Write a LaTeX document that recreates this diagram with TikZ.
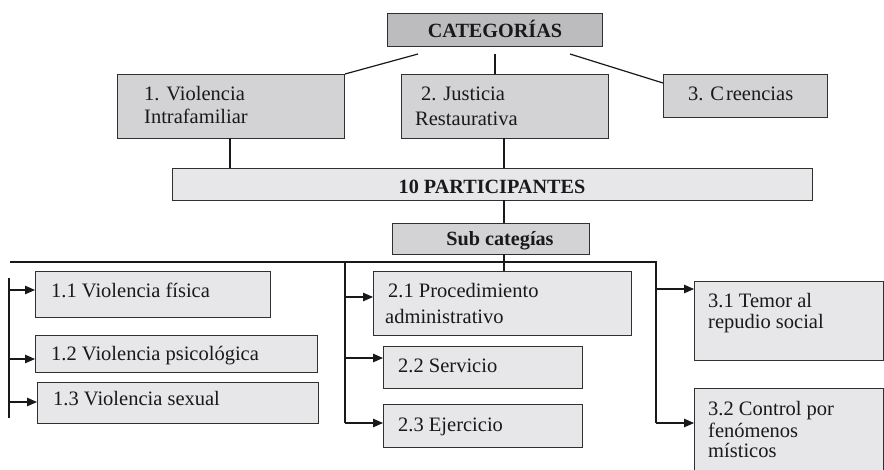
\documentclass[tikz,border=0pt]{standalone}
\usepackage{fontspec}
\setmainfont{Liberation Serif}
\usetikzlibrary{arrows.meta}
\definecolor{catfill}{HTML}{BCBCBE}
\definecolor{midfill}{HTML}{D3D3D5}
\definecolor{lightfill}{HTML}{E7E7E9}
\definecolor{edgecol}{HTML}{303030}
\tikzset{
  boxbase/.style={draw=edgecol, line width=1pt, inner sep=0pt, anchor=north west},
  catbox/.style={boxbase, fill=catfill},
  midbox/.style={boxbase, fill=midfill},
  lightbox/.style={boxbase, fill=lightfill},
  txt/.style={inner sep=0pt, anchor=base west, font=\fontsize{20.5}{23}\selectfont, text=black!90},
  btxt/.style={txt, font=\fontsize{20.2}{23}\selectfont\bfseries},
  thinline/.style={draw=black!90, line width=1.2pt},
  busline/.style={draw=black!90, line width=2pt},
  vline/.style={draw=black!90, line width=1.8pt},
  arr/.style={draw=black!90, line width=1.1pt, -{Triangle[length=10pt,width=8.5pt]}}
}
\begin{document}
\begin{tikzpicture}[x=1pt,y=-1pt]
\useasboundingbox (0,0) rectangle (884,469);
\clip (0,0) rectangle (884,469);
\fill[white] (0,0) rectangle (884,469);

% top level boxes
\node[catbox, minimum width=215pt, minimum height=33pt] (cat) at (387,13) {};
\node[midbox, minimum width=227pt, minimum height=64pt] (b1) at (117,74) {};
\node[midbox, minimum width=207pt, minimum height=64pt] (b2) at (401,74) {};
\node[midbox, minimum width=164pt, minimum height=43pt] (b3) at (663,74) {};
\node[lightbox, minimum width=640pt, minimum height=32pt] (part) at (172,168) {};
\node[midbox, minimum width=197pt, minimum height=31pt] (sub) at (392,223) {};

% sub boxes
\node[lightbox, minimum width=235pt, minimum height=46pt] (b11) at (35,271) {};
\node[lightbox, minimum width=282pt, minimum height=37pt] (b12) at (35,335) {};
\node[lightbox, minimum width=281pt, minimum height=41pt] (b13) at (37,382) {};
\node[lightbox, minimum width=258pt, minimum height=64pt] (b21) at (373,271) {};
\node[lightbox, minimum width=199pt, minimum height=42pt] (b22) at (383,346) {};
\node[lightbox, minimum width=199pt, minimum height=43pt] (b23) at (383,404) {};
\node[lightbox, minimum width=189pt, minimum height=79pt] (b31) at (694,281) {};
\node[lightbox, minimum width=189pt, minimum height=95pt] (b32) at (694,388) {};

% texts
\node[btxt, anchor=base] (tcat) at (495,37) {CATEGORÍAS};
\node[txt] (t1a) at (144,100) {1. Violencia};
\node[txt] (t1b) at (144,123) {Intrafamiliar};
\node[txt] (t2a) at (421,100) {2. Justicia};
\node[txt] (t2b) at (415,125) {Restaurativa};
\node[txt] (t3) at (688,100) {3. C\hspace{2pt}reencias};
\node[btxt, anchor=base] (tpart) at (492,193) {10 PARTICIPANTES};
\node[btxt, anchor=base] (tsub) at (500,245) {Sub categías};
\node[txt] (t11) at (51,297) {1.1 Violencia física};
\node[txt] (t12) at (51,360) {1.2 Violencia psicológica};
\node[txt] (t13) at (53,405) {1.3 Violencia sexual};
\node[txt] (t21a) at (388,297) {2.1 Procedimiento};
\node[txt] (t21b) at (385,323) {administrativo};
\node[txt] (t22) at (398,372) {2.2 Servicio};
\node[txt] (t23) at (398,431) {2.3 Ejercicio};
\node[txt] (t31a) at (708,307) {3.1 Temor al};
\node[txt] (t31b) at (708,328) {repudio social};
\node[txt] (t32a) at (708,415) {3.2 Control por};
\node[txt] (t32b) at (708,437) {fenómenos};
\node[txt] (t32c) at (708,457) {místicos};

% connectors from CATEGORIAS
\coordinate (cl) at (418,54);
\coordinate (cm) at (495,54);
\coordinate (cr) at (570,54);
\coordinate (b3in) at (663,83);
\draw[thinline] (cl) -- (b1.north east);
\draw[vline] (cm) -- (cm |- b2.north);
\draw[thinline] (cr) -- (b3in);

% to participants
\coordinate (v1) at (230,138);
\coordinate (v2) at (504,138);
\draw[thinline] (v1) -- (v1 |- part.north);
\draw[vline] (v2) -- (v2 |- part.north);
\coordinate (v3) at (504,200);
\draw[thinline] (v3) -- (v3 |- sub.north);
\coordinate (v4) at (504,254);
\draw[thinline] (v4) -- (v4 |- b21.north);

% bus
\coordinate (busl) at (10,262);
\coordinate (busm) at (345,262);
\coordinate (busr) at (656,262);
\coordinate (rbot) at (656,423);
\draw[busline] (busl) -- (busr) -- (rbot);
\coordinate (mbot) at (345,423);
\draw[vline] (busm) -- (mbot);
\coordinate (ltop) at (9,278);
\coordinate (lbot) at (9,418);
\draw[vline] (ltop) -- (lbot);

% arrows left
\coordinate (a11) at (9,290);
\coordinate (a12) at (9,359);
\coordinate (a13) at (9,402);
\draw[arr] (a11) -- (a11 -| b11.west);
\draw[arr] (a12) -- (a12 -| b12.west);
\draw[arr] (a13) -- (a13 -| b13.west);
% arrows middle
\coordinate (a21) at (345,297);
\coordinate (a22) at (345,358);
\draw[arr] (a21) -- (a21 -| b21.west);
\draw[arr] (a22) -- (a22 -| b22.west);
\draw[arr] (mbot) -- (mbot -| b23.west);
% arrows right
\coordinate (a31) at (656,289);
\draw[arr] (a31) -- (a31 -| b31.west);
\draw[arr] (rbot) -- (rbot -| b32.west);
\end{tikzpicture}
\end{document}
